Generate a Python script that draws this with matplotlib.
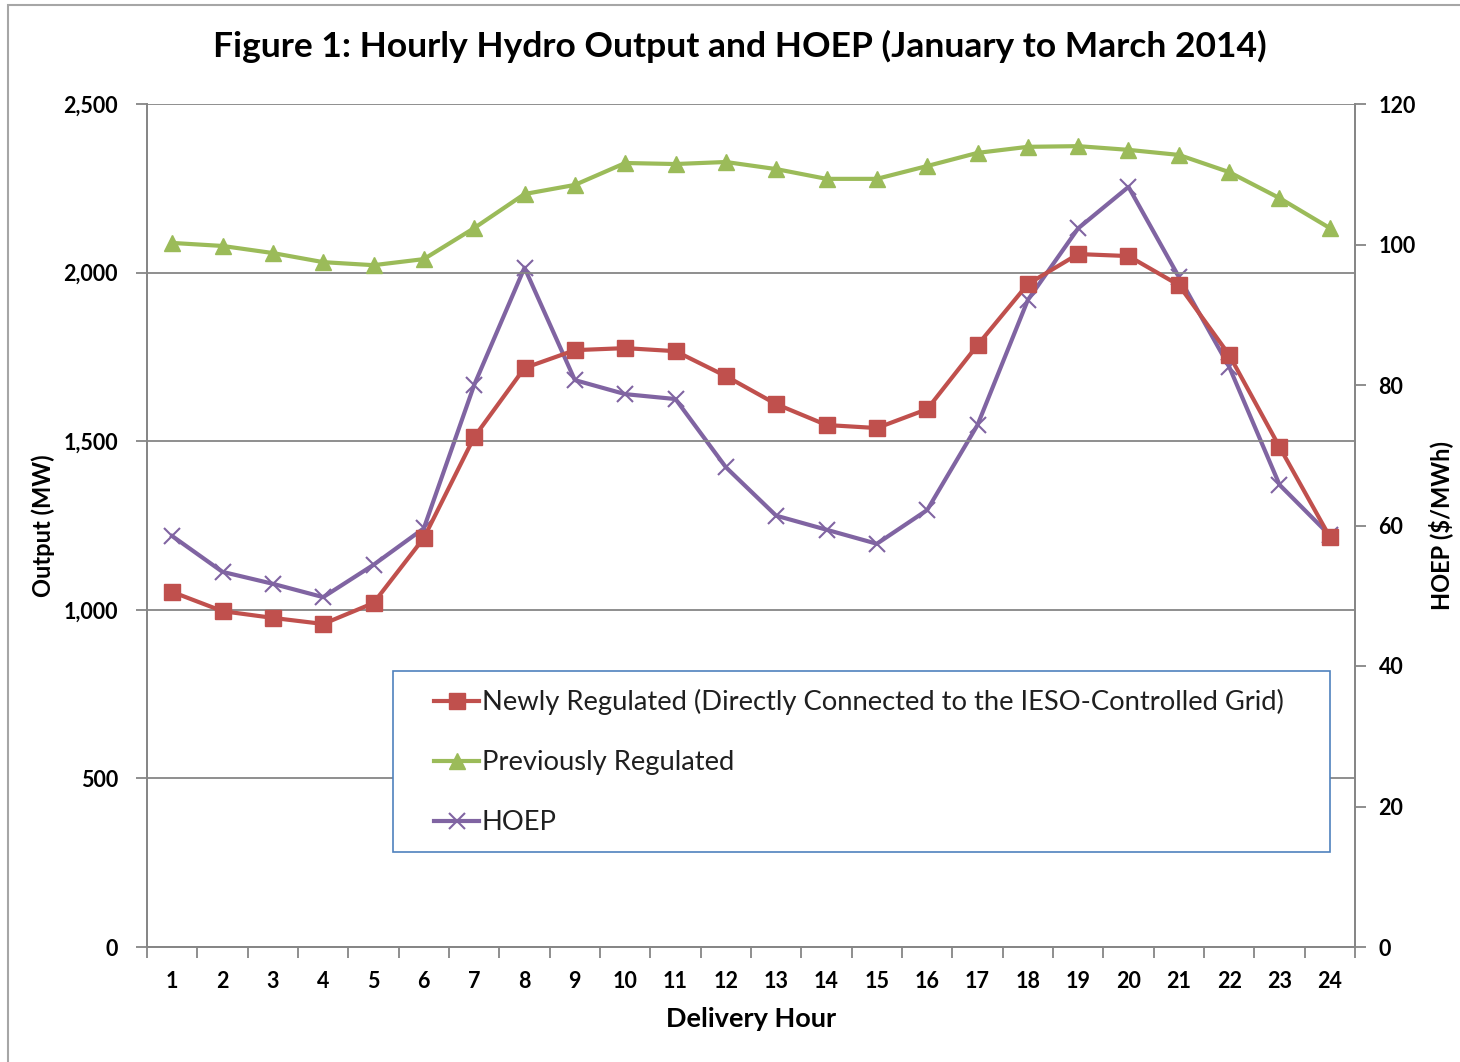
import matplotlib.pyplot as plt
import matplotlib.patches as mpatches
from matplotlib.ticker import FuncFormatter, FixedLocator
import numpy as np

plt.rcParams['font.family'] = ['Lato', 'DejaVu Sans']

hours = list(range(1, 25))
newly_regulated = [1053, 996, 976, 958, 1020, 1213, 1512, 1717, 1770, 1776, 1767, 1693,
                   1610, 1548, 1539, 1595, 1785, 1966, 2055, 2049, 1963, 1756, 1483, 1216]
previously_regulated = [2088, 2079, 2058, 2031, 2022, 2040, 2132, 2233, 2260, 2325, 2322, 2328,
                        2307, 2278, 2278, 2316, 2355, 2373, 2375, 2364, 2349, 2298, 2221, 2132]
hoep = [58.5, 53.4, 51.7, 49.8, 54.4, 59.6, 80.0, 96.7, 80.7, 78.7, 78.0, 68.3,
        61.4, 59.4, 57.4, 62.2, 74.3, 92.1, 102.3, 108.2, 95.4, 82.6, 65.8, 58.6]

RED = "#C0504D"
GREEN = "#9BBB59"
PURPLE = "#8064A2"
GREY = "#868686"

fig = plt.figure(figsize=(14.6, 10.62), dpi=100)
ax = fig.add_axes([147 / 1460, 1 - 947 / 1062, 1208 / 1460, 843 / 1062])
ax2 = ax.twinx()

# outer chart border
fig.patches.append(mpatches.Rectangle((8 / 1460, -0.1), 1.2, 1 - 5 / 1062 + 0.1,
                                      transform=fig.transFigure, fill=False,
                                      edgecolor="#A6A6A6", linewidth=1.5))

l1, = ax.plot(hours, newly_regulated, color=RED, lw=3, marker="s", ms=11,
              label="Newly Regulated (Directly Connected to the IESO-Controlled Grid)")
l2, = ax.plot(hours, previously_regulated, color=GREEN, lw=3, marker="^", ms=12,
              label="Previously Regulated")
l3, = ax2.plot(hours, hoep, color=PURPLE, lw=3, marker="x", ms=11, mew=1.5,
               label="HOEP")

ax.set_zorder(ax2.get_zorder() + 1)
ax.patch.set_visible(False)

ax.set_xlim(0.5, 24.5)
ax.set_ylim(0, 2500)
ax2.set_ylim(0, 120)
ax.set_yticks(np.arange(0, 2501, 500))
ax2.set_yticks(np.arange(0, 121, 20))
ax.yaxis.set_major_formatter(FuncFormatter(lambda v, p: f"{int(v):,}"))
ax.grid(axis="y", color=GREY, lw=1.3)
ax.set_axisbelow(True)

ax.xaxis.set_major_locator(FixedLocator(np.arange(0.5, 25, 1)))
ax.xaxis.set_minor_locator(FixedLocator(hours))
ax.set_xticklabels([])
ax.set_xticklabels([str(h) for h in hours], minor=True)
ax.tick_params(axis="x", which="major", length=8, width=1.3, color=GREY, direction="out")
ax.tick_params(axis="x", which="minor", length=0, pad=17, labelsize=15.5)
ax.tick_params(axis="y", length=8, width=1.3, color=GREY, labelsize=15.5, pad=13)
ax2.tick_params(axis="y", length=8, width=1.3, color=GREY, labelsize=15.5, pad=9)
for lab in ax.get_xticklabels(minor=True) + ax.get_yticklabels() + ax2.get_yticklabels():
    lab.set_fontweight("bold")

for a in (ax, ax2):
    for side in ("left", "right", "bottom"):
        a.spines[side].set_color(GREY)
        a.spines[side].set_linewidth(1.3)
    a.spines["top"].set_visible(False)

ax.set_xlabel("Delivery Hour", fontsize=19.5, fontweight="bold", labelpad=11)
ax.set_ylabel("Output (MW)", fontsize=17, fontweight="bold", labelpad=6)
ax2.set_ylabel("HOEP ($/MWh)", fontsize=17, fontweight="bold", labelpad=9)

fig.suptitle("Figure 1: Hourly Hydro Output and HOEP (January to March 2014)",
             x=740 / 1460, y=1 - 46 / 1062, va="center", fontsize=25.5, fontweight="bold")

# legend frame drawn separately, legend placed inside it
ax.add_patch(mpatches.Rectangle(((393 - 147) / 1208, (947 - 852) / 843),
                                (1330 - 393) / 1208, (852 - 671) / 843,
                                transform=ax.transAxes, facecolor="white",
                                edgecolor="#4F81BD", lw=1.2, zorder=5))
leg = ax.legend(handles=[l1, l2, l3], loc="upper left",
                bbox_to_anchor=((434 - 147) / 1208, (947 - 689) / 843),
                fontsize=19.7, frameon=False,
                handlelength=1.65, handletextpad=0.1, labelspacing=1.28,
                borderpad=0, borderaxespad=0)
leg.set_zorder(6)
for t in leg.get_texts():
    t.set_color("#1F1F1F")

fig.savefig("out.png", dpi=100)
